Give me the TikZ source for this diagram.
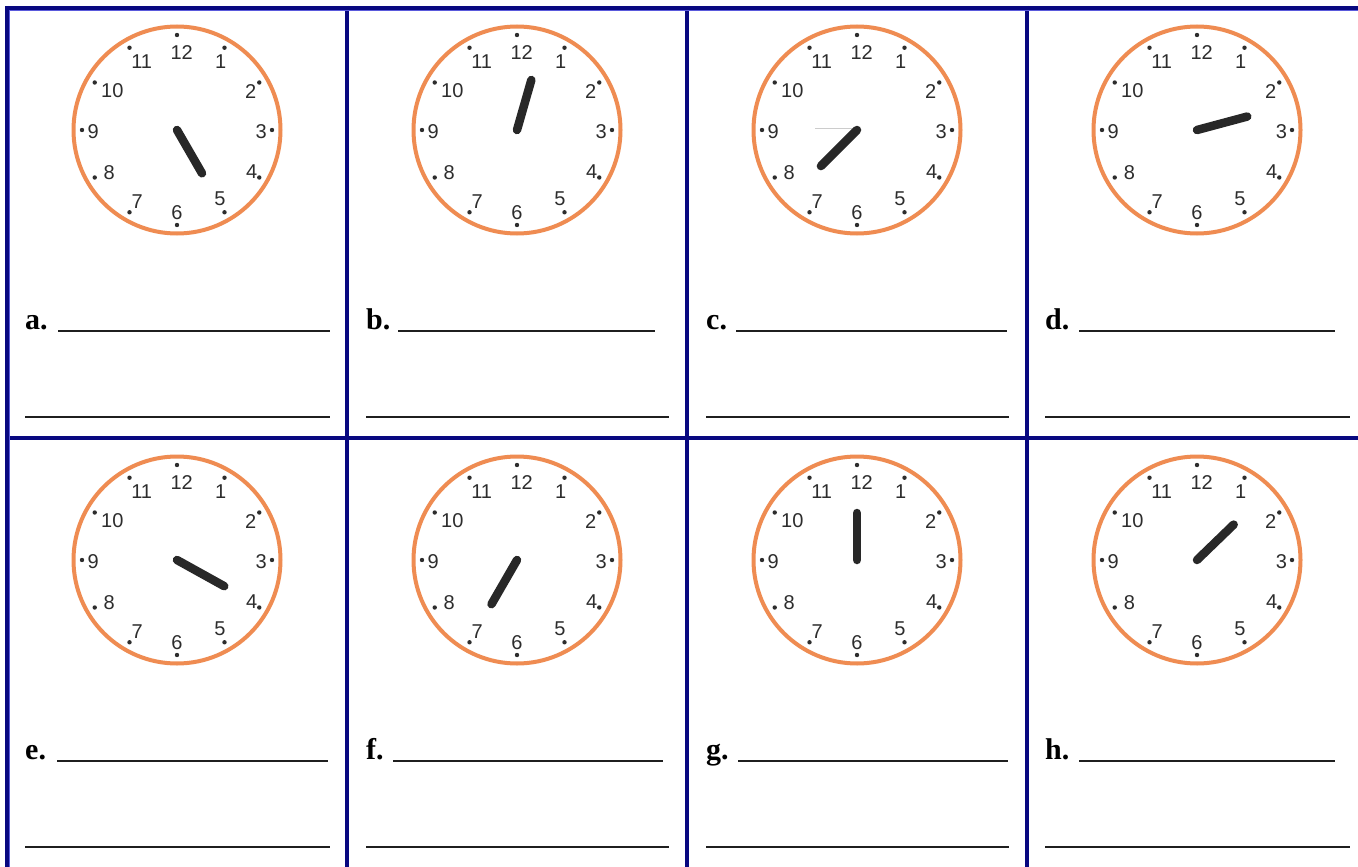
\documentclass[tikz,border=0pt]{standalone}
\usepackage{fontspec}
\setmainfont{Liberation Serif}
\newfontfamily\clockfont{Liberation Sans}
\definecolor{clockorange}{RGB}{239,140,82}
\definecolor{handblack}{RGB}{40,40,40}
\definecolor{numgray}{RGB}{45,45,45}
\definecolor{navy}{RGB}{8,8,128}
\definecolor{lightnavy}{RGB}{90,90,220}
\tikzset{
  ring/.style={draw=clockorange, line width=4pt, fill=white},
  hand/.style={line width=8.5pt, line cap=round, draw=handblack},
  num/.style={font=\clockfont\fontsize{20}{20}\selectfont, text=numgray, inner sep=0pt},
  lbl/.style={font=\fontsize{30}{30}\selectfont\bfseries, inner sep=0pt, anchor=base west},
  blank/.style={line width=2pt, draw=black!88},
  gridline/.style={line width=4pt, draw=navy},
  gridedge/.style={line width=1pt, draw=lightnavy},
}
\newcommand\clockface[5]{%
  \begin{scope}[shift={(#2,#3)}]
    \draw[ring] (0,0) circle[radius=103.5];
    \foreach \h/\dx/\dy in {12/4.7/-77.7, 1/43.7/-68.3, 2/73.7/-38.3, 3/84.3/1.7,
        4/74.7/41.7, 5/43/68.3, 6/0/82.7, 7/-39.7/71.7, 8/-67.7/42.7,
        9/-83.7/1.7, 10/-64.7/-39, 11/-35.3/-68.3}{
      \fill[numgray] ({95*sin(30*\h)},{-95*cos(30*\h)}) circle[radius=2.2];
      \node[num] (#1-\h) at (\dx,\dy) {\h};
    }
    \coordinate (#1-c) at (0,0);
    \coordinate (#1-tip) at ({#5*sin(#4)},{-#5*cos(#4)});
    \draw[hand] (#1-c) -- (#1-tip);
  \end{scope}}
\newcommand\answer[6]{% letter, labelx, basey, line1 start, line1 end, line2 end
  \node[lbl] (lbl-#1) at (#2,#3) {#1.};
  \draw[blank] (#4,#3+1.5) -- (#5,#3+1.5);
  \draw[blank] (#2,#3+87.5) -- (#6,#3+87.5);
}
\begin{document}
\begin{tikzpicture}[x=1pt,y=-1pt]
  \useasboundingbox (0,0) rectangle (1358,867);
  \fill[white] (0,0) rectangle (1358,867);
  % grid
  \draw[gridline] (5,8) -- (1358,8);
  \draw[gridline] (7,6) -- (7,867);
  \draw[gridline] (5,438) -- (1358,438);
  \foreach \x in {347,687,1027}{\draw[gridline] (\x,6) -- (\x,867);}
  \draw[gridedge] (9.5,10.5) -- (9.5,867);
  \draw[gridedge] (9.5,10.5) -- (1358,10.5);
  % clocks
  \clockface{a}{177}{130}{150}{50}
  \clockface{b}{517}{130}{16}{52}
  \clockface{c}{857}{130}{225}{51}
  \clockface{d}{1197}{130}{75}{52}
  \clockface{e}{177}{560}{119}{54}
  \clockface{f}{517}{560}{210}{51}
  \clockface{g}{857}{560}{0}{47}
  \clockface{h}{1197}{560}{46}{51}
  \draw[line width=0.8pt, black!20] (815,128) -- (852,128);
  % answers
  \answer{a}{25}{329}{58}{330}{330}
  \answer{b}{366}{329}{398}{655}{669}
  \answer{c}{706}{329}{736}{1007}{1009}
  \answer{d}{1045}{329}{1079}{1335}{1350}
  \answer{e}{25}{759}{57}{328}{330}
  \answer{f}{366}{759}{393}{663}{669}
  \answer{g}{706}{759}{738}{1008}{1009}
  \answer{h}{1045}{759}{1079}{1335}{1350}
\end{tikzpicture}
\end{document}
